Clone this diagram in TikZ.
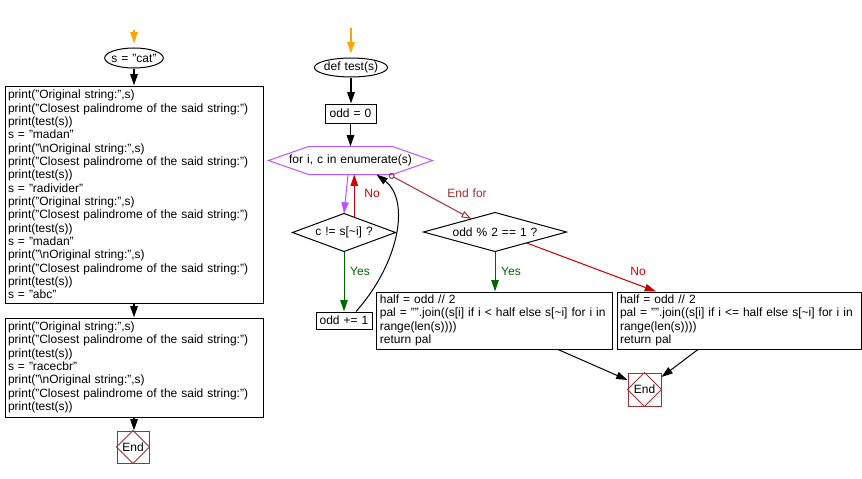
\documentclass[tikz,border=0pt]{standalone}
\usepackage{fontspec}
\setmainfont{Liberation Sans}[WordSpace=1.2]
\usetikzlibrary{arrows.meta,calc}
\definecolor{orng}{HTML}{FFA500}
\definecolor{purp}{HTML}{BB55FF}
\definecolor{rd}{HTML}{CC0000}
\definecolor{drd}{HTML}{993333}
\definecolor{grn}{HTML}{006600}
\begin{document}
\begin{tikzpicture}[x=0.75pt,y=-0.75pt,line width=0.75pt,
  font=\fontsize{9}{10}\selectfont,
  arr/.style={-{Triangle[length=8.5pt,width=5.5pt]}},
  heavy/.style={arr, line width=1.4pt},
  codebox/.style={draw, line width=0.75pt, rectangle, inner xsep=2.25pt, inner ysep=0pt, align=left},
  plain/.style={rectangle, inner sep=0pt},
  endbox/.style={draw=drd, rectangle, minimum size=24pt, inner sep=0pt}]
\useasboundingbox (0,0) rectangle (862,478);

% ---------- left column ----------
\coordinate (s1) at (134,30);
\node[plain, minimum width=43.5pt, minimum height=15pt] (cat) at (134,58) {s = "cat"};
\draw (cat.center) ellipse [x radius=22pt, y radius=7.5pt];

\node[codebox, text width=189pt, minimum width=193.5pt, minimum height=162.75pt] (b1) at (134,194.5) {%
print("Original string:",s)\\
print("Closest palindrome of the said string:")\\
print(test(s))\\
s = "madan"\\
print("\textbackslash nOriginal string:",s)\\
print("Closest palindrome of the said string:")\\
print(test(s))\\
s = "radivider"\\
print("Original string:",s)\\
print("Closest palindrome of the said string:")\\
print(test(s))\\
s = "madan"\\
print("\textbackslash nOriginal string:",s)\\
print("Closest palindrome of the said string:")\\
print(test(s))\\
s = "abc"};

\node[codebox, text width=189pt, minimum width=193.5pt, minimum height=74.25pt] (b2) at (134,367.5) {%
print("Original string:",s)\\
print("Closest palindrome of the said string:")\\
print(test(s))\\
s = "racecbr"\\
print("\textbackslash nOriginal string:",s)\\
print("Closest palindrome of the said string:")\\
print(test(s))};

\node[endbox] (e1) at (133,447) {End};
\draw[drd] (e1.north) -- (e1.east) -- (e1.south) -- (e1.west) -- cycle;

\draw[heavy, orng, shorten >=3pt] (s1) -- (cat.north);
\draw[heavy] (cat.south) -- (cat.south |- b1.north);
\draw[heavy] (b1.south) -- (b1.south |- b2.north);
\draw[heavy] (b2.south) -- (b2.south |- e1.north);

% ---------- function ----------
\coordinate (s2) at (351,28);
\node[plain, minimum width=54.75pt, minimum height=14.25pt] (def) at (351,67.5) {def test(s)};
\draw (def.center) ellipse [x radius=27.4pt, y radius=7.1pt];

\node[draw, rectangle, minimum width=38.25pt, minimum height=14.25pt, inner sep=0pt] (odd0) at (350.5,113.5) {odd = 0};

\node[plain, minimum width=122.25pt, minimum height=20.25pt] (hex) at (350.5,160.5) {for i, c in enumerate(s)};
\draw[purp] (hex.west) -- ($(hex.north west)+(40,0)$) -- ($(hex.north east)+(-40,0)$)
  -- (hex.east) -- ($(hex.south east)+(-40,0)$) -- ($(hex.south west)+(40,0)$) -- cycle;

\node[plain, minimum width=76.5pt, minimum height=27.75pt] (d1) at (344,232.5) {c != s[\textasciitilde i] ?};
\draw (d1.north) -- (d1.east) -- (d1.south) -- (d1.west) -- cycle;

\node[draw, rectangle, minimum width=42pt, minimum height=12.75pt, inner sep=0pt] (inc) at (344,320.5) {odd += 1};

\node[plain, minimum width=106.5pt, minimum height=28.5pt] (d2) at (495,232) {odd \% 2 == 1 ?};
\draw (d2.north) -- (d2.east) -- (d2.south) -- (d2.west) -- cycle;

\node[codebox, text width=172pt, minimum width=176.25pt, minimum height=42.75pt] (b3) at (494.5,320.5) {%
half = odd // 2\\
pal = "".join((s[i] if i < half else s[\textasciitilde i] for i in\\
range(len(s))))\\
return pal};

\node[codebox, text width=178.5pt, minimum width=183pt, minimum height=42.75pt] (b4) at (739,320.5) {%
half = odd // 2\\
pal = "".join((s[i] if i <= half else s[\textasciitilde i] for i in\\
range(len(s))))\\
return pal};

\node[endbox, minimum size=24.75pt] (e2) at (644.5,389.5) {End};
\draw[drd] (e2.north) -- (e2.east) -- (e2.south) -- (e2.west) -- cycle;

% connectors
\draw[heavy, orng, shorten >=3pt] (s2) -- (def.north);
\draw[heavy] (def.south) -- (def.south |- odd0.north);
\draw[heavy] (odd0.south) -- (odd0.south |- hex.north);

\draw[arr, purp] ($(hex.south)+(-2.5,0)$) -- (d1.north);
\coordinate (r1) at ($(d1.north)!0.2!(d1.east)$);
\draw[arr, rd] (r1) -- (r1 |- hex.south);
\node[text=rd] (lno1) at (372,193) {No};

\draw[arr, grn] (d1.south) -- (inc.north);
\node[text=grn] (lyes1) at (360,271) {Yes};

\draw[arr] ($(inc.north)+(12,0)$) .. controls (400,262) and (410,200) .. ($(hex.south)+(26,0)$);

\draw[drd, {Circle[open,length=4.5pt]}-{Triangle[open,length=7.5pt,width=5pt]}]
  ($(hex.south)+(38.5,0)$) -- ($(d2.north)!0.33!(d2.west)$);
\node[text=drd] (lend) at (467,193) {End for};

\draw[arr, grn] (d2.south) -- (d2.south |- b3.north);
\node[text=grn] (lyes2) at (511,271) {Yes};

\draw[arr, rd] ($(d2.south)!0.44!(d2.east)$) -- ($(b4.north)+(-83,0)$);
\node[text=rd] (lno2) at (638,271) {No};

\draw[arr] ($(b3.south)+(63.5,0)$) -- ($(e2.west)+(0,-9.5)$);
\draw[arr] ($(b4.south)+(-41,0)$) -- ($(e2.east)+(0,-12.5)$);
\end{tikzpicture}
\end{document}
